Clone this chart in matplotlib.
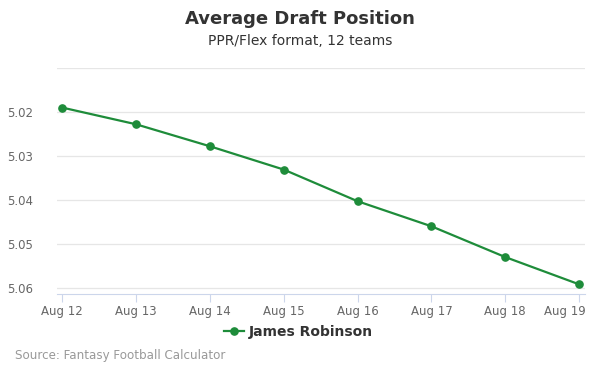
import matplotlib.pyplot as plt
import matplotlib.transforms as mtransforms
import numpy as np

dates = ["Aug 12", "Aug 13", "Aug 14", "Aug 15", "Aug 16", "Aug 17", "Aug 18", "Aug 19"]
adp = [5.0190, 5.0228, 5.0278, 5.0331, 5.0403, 5.0460, 5.0530, 5.0592]
yticks = [5.02, 5.03, 5.04, 5.05, 5.06]
player = "James Robinson"

green = "#1e8c3a"
grid_c = "#e6e6e6"
text_c = "#666666"

fig = plt.figure(figsize=(6, 3.75), dpi=100)
ax = fig.add_axes([0.095, 0.216, 0.88, 0.6027])

x = np.arange(len(dates))
ax.plot(x, adp, color=green, lw=1.6, marker="o", ms=5.2, label=player, zorder=3)

ax.set_xlim(-0.07, 7.08)
ax.set_ylim(5.0614, 5.01)
ax.set_yticks([5.01] + yticks)
ax.set_yticklabels([""] + ["%.2f" % v for v in yticks])
ax.set_xticks(x)
ax.set_xticklabels(dates)
ax.grid(axis="y", color=grid_c, lw=0.9)
ax.set_axisbelow(True)
for s in ["top", "right", "left"]:
    ax.spines[s].set_visible(False)
ax.spines["bottom"].set_color("#ccd6eb")
ax.tick_params(axis="y", length=0, pad=17, labelsize=8.5, labelcolor=text_c)
ax.tick_params(axis="x", length=6, color="#ccd6eb", labelsize=8.5, labelcolor=text_c, pad=2)

# last label pushed left so it stays inside the chart, like the original
last = ax.get_xticklabels()[-1]
last.set_transform(last.get_transform() + mtransforms.ScaledTranslation(-14 / 100, 0, fig.dpi_scale_trans))

fig.text(0.5, 0.949, "Average Draft Position", ha="center", va="center",
         fontsize=13, fontweight="bold", color="#333333")
fig.text(0.5, 0.891, "PPR/Flex format, 12 teams", ha="center", va="center",
         fontsize=10, color="#333333")

leg = fig.legend(loc="center", bbox_to_anchor=(0.497, 0.115), frameon=False,
                 handlelength=1.5, handletextpad=0.3,
                 prop={"weight": "bold", "size": 10})
for t in leg.get_texts():
    t.set_color("#333333")

fig.text(0.025, 0.051, "Source: Fantasy Football Calculator", ha="left", va="center",
         fontsize=8.6, color="#999999")

fig.savefig("out.png", dpi=100)
